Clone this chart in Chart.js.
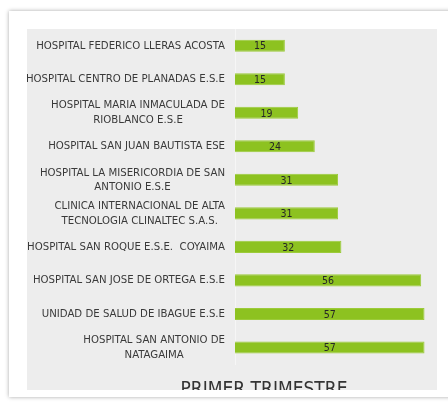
<!DOCTYPE html>
<html>
<head>
<meta charset="utf-8">
<script src="https://cdn.jsdelivr.net/npm/chart.js@4"></script>
<style>
  html, body { margin: 0; padding: 0; background: #ffffff; }
  body { width: 448px; height: 404px; position: relative; overflow: hidden; }
  /* tarjeta blanca con sombra */
  #card {
    position: absolute; left: 9px; top: 11px; width: 460px; height: 386px;
    background: #ffffff; box-shadow: 0 0 4px rgba(0, 0, 0, 0.35);
  }
  /* zona gris que recorta el grafico */
  #clip {
    position: absolute; left: 27px; top: 29px; width: 410px; height: 361px;
    background: #ededed; overflow: hidden;
  }
  #wrap { position: absolute; left: 0; top: 0; width: 474px; height: 380px; }
</style>
</head>
<body>
<div id="card"></div>
<div id="clip">
  <div id="wrap"><canvas id="chart"></canvas></div>
</div>
<script>
// datos del grafico (primer trimestre)
const hospitales = [
  "HOSPITAL FEDERICO LLERAS ACOSTA",
  "HOSPITAL CENTRO DE PLANADAS E.S.E",
  ["HOSPITAL MARIA INMACULADA DE", "RIOBLANCO E.S.E"],
  "HOSPITAL SAN JUAN BAUTISTA ESE",
  ["HOSPITAL LA MISERICORDIA DE SAN", "ANTONIO E.S.E"],
  ["CLINICA INTERNACIONAL DE ALTA", "TECNOLOGIA CLINALTEC S.A.S."],
  "HOSPITAL SAN ROQUE E.S.E.  COYAIMA",
  "HOSPITAL SAN JOSE DE ORTEGA E.S.E",
  "UNIDAD DE SALUD DE IBAGUE E.S.E",
  ["HOSPITAL SAN ANTONIO DE", "NATAGAIMA"]
];
const valores = [15, 15, 19, 24, 31, 31, 32, 56, 57, 57];
const titulo = "PRIMER TRIMESTRE";

const FUENTE = "'Liberation Sans Narrow', 'DejaVu Sans Condensed', sans-serif";

// etiquetas de valor dentro de cada barra
const etiquetasValor = {
  id: "etiquetasValor",
  afterDatasetsDraw(chart) {
    const ctx = chart.ctx;
    const meta = chart.getDatasetMeta(0);
    ctx.save();
    ctx.font = "10.5px " + FUENTE;
    ctx.fillStyle = "#262626";
    ctx.textAlign = "center";
    ctx.textBaseline = "middle";
    meta.data.forEach((bar, i) => {
      ctx.fillText(String(valores[i]), (bar.x + bar.base) / 2, bar.y + 1);
    });
    ctx.restore();
  }
};

// etiquetas de categoria: bloque alineado a la derecha, lineas centradas
const etiquetasCategoria = {
  id: "etiquetasCategoria",
  afterDraw(chart) {
    const ctx = chart.ctx;
    const escala = chart.scales.y;
    const derecha = escala.right - 10;
    const alto = 14.5;
    ctx.save();
    ctx.font = "11.3px " + FUENTE;
    ctx.fillStyle = "#3a3a3a";
    ctx.textAlign = "center";
    ctx.textBaseline = "middle";
    hospitales.forEach((etq, i) => {
      const lineas = Array.isArray(etq) ? etq : [etq];
      const ancho = Math.max(...lineas.map(l => ctx.measureText(l).width));
      const cx = derecha - ancho / 2;
      const cy = escala.getPixelForTick(i);
      const y0 = cy - (lineas.length - 1) * alto / 2;
      lineas.forEach((l, k) => ctx.fillText(l, cx, y0 + k * alto));
    });
    ctx.restore();
  }
};

new Chart(document.getElementById("chart"), {
  type: "bar",
  data: {
    labels: hospitales,
    datasets: [{
      data: valores,
      backgroundColor: "#8dc220",
      borderColor: "#9ccb3a",
      borderWidth: 1,
      barPercentage: 0.6,
      categoryPercentage: 0.6
    }]
  },
  options: {
    indexAxis: "y",
    responsive: true,
    maintainAspectRatio: false,
    animation: false,
    layout: { padding: 0 },
    plugins: {
      legend: { display: false },
      tooltip: { enabled: false },
      title: {
        display: true,
        text: titulo,
        position: "bottom",
        color: "#333333",
        font: { family: FUENTE, size: 19, weight: "normal" },
        padding: { top: 14, bottom: 8 }
      }
    },
    scales: {
      x: {
        display: false,
        min: 0,
        max: 80
      },
      y: {
        afterFit(scale) {
          scale.width = 208; // eje fijo en x=235 de la pagina
          scale.paddingTop = 0;
          scale.paddingBottom = 0;
        },
        grid: { display: false },
        border: { display: true, color: "#f6f6f6", width: 1 },
        ticks: { display: false }
      }
    }
  },
  plugins: [etiquetasValor, etiquetasCategoria]
});
</script>
</body>
</html>
